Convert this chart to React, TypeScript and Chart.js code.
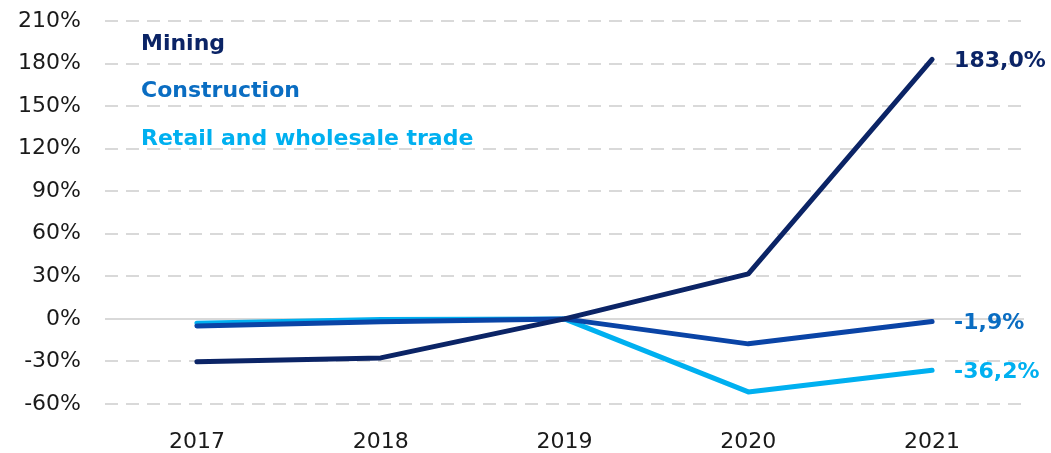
import React, { useEffect, useRef } from "react";
import { Chart, registerables } from "chart.js";

Chart.register(...registerables);

const years = ["2017", "2018", "2019", "2020", "2021"];
const mining = [-30.3, -27.5, 0, 31.7, 183.0];
const construction = [-5.0, -2.0, 0, -17.6, -1.9];
const retail = [-3.0, -0.5, 0, -51.5, -36.2];
const seriesNames = ["Mining", "Construction", "Retail and wholesale trade"];
const endLabels = ["183,0%", "-1,9%", "-36,2%"];
const yTicks = [-60, -30, 0, 30, 60, 90, 120, 150, 180, 210];

const lineColors = ["#0b2466", "#0a44a6", "#00b0f0"];
const textColors = ["#0b2466", "#0a6dc2", "#00b0f0"];

const FONT = "'DejaVu Sans', sans-serif";

const overlayPlugin = {
  id: "overlayText",
  afterDatasetsDraw(chart: any) {
    const ctx = chart.ctx;
    ctx.save();
    ctx.font = `bold 22px ${FONT}`;
    ctx.textBaseline = "middle";
    ctx.textAlign = "left";
    const legendY = [44, 91, 139];
    seriesNames.forEach((name, i) => {
      ctx.fillStyle = textColors[i];
      ctx.fillText(name, 141, legendY[i]);
    });
    chart.data.datasets.forEach((ds: any, i: number) => {
      const meta = chart.getDatasetMeta(i);
      const pt = meta.data[meta.data.length - 1];
      ctx.fillStyle = textColors[i];
      ctx.fillText(endLabels[i], pt.x + 22, pt.y + 2);
    });
    ctx.restore();
  },
};

export default function App() {
  const ref = useRef<HTMLCanvasElement>(null);
  useEffect(() => {
    document.body.style.margin = "0";
    const chart = new Chart(ref.current!, {
      type: "line",
      data: {
        labels: years,
        datasets: [mining, construction, retail].map((d, i) => ({
          label: seriesNames[i],
          data: d,
          borderColor: lineColors[i],
          backgroundColor: lineColors[i],
          borderWidth: 5,
          pointRadius: 0,
          borderCapStyle: "round",
          borderJoinStyle: "round",
          tension: 0,
        })),
      },
      options: {
        animation: false,
        responsive: false,
        layout: { padding: { top: 21, right: 27, left: 0, bottom: 0 } },
        plugins: { legend: { display: false }, tooltip: { enabled: false } },
        scales: {
          x: {
            offset: true,
            grid: { display: false },
            border: { display: false },
            ticks: { color: "#1a1a1a", font: { family: FONT, size: 22 }, padding: 17 },
            afterFit(scale: any) {
              scale.height = 49;
            },
          },
          y: {
            min: -60,
            max: 210,
            afterBuildTicks(scale: any) {
              scale.ticks = yTicks.map((v) => ({ value: v }));
            },
            grid: { color: "#d9d9d9", lineWidth: 2, drawTicks: false },
            border: {
              display: false,
              dash: (c: any) => (c.tick && c.tick.value === 0 ? [] : [13, 8]),
            },
            ticks: {
              color: "#1a1a1a",
              font: { family: FONT, size: 22 },
              padding: 24,
              callback: (v: any) => `${v}%`,
            },
            afterFit(scale: any) {
              scale.width = 105;
              scale.paddingTop = 0;
              scale.paddingBottom = 0;
            },
          },
        },
      },
      plugins: [overlayPlugin],
    } as any);
    return () => chart.destroy();
  }, []);
  return <canvas ref={ref} width={1051} height={453} style={{ display: "block" }} />;
}
